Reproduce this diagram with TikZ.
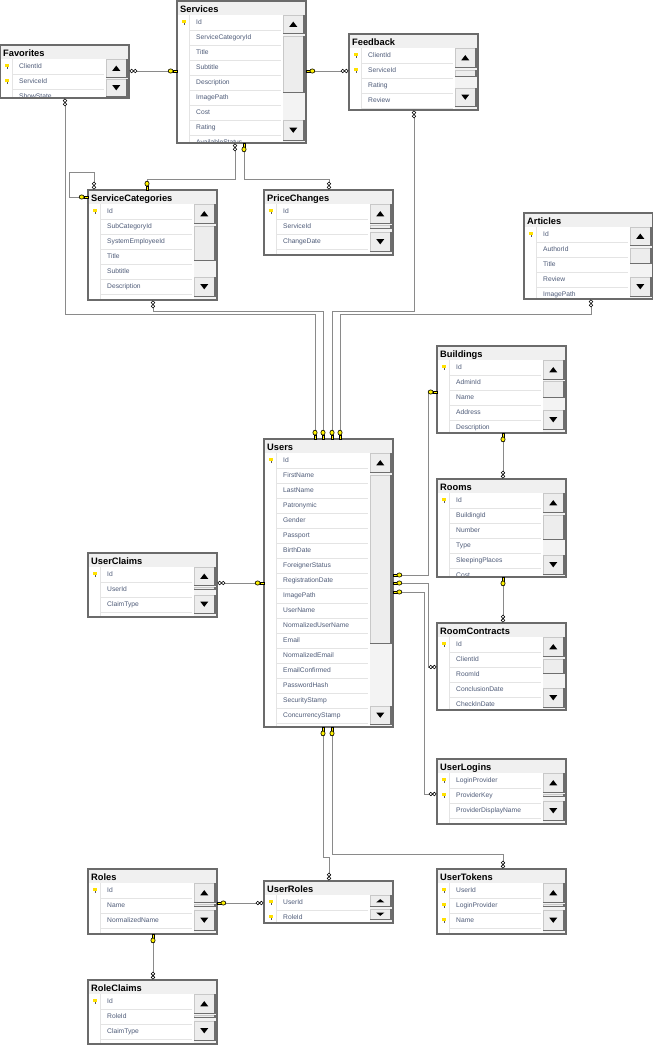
\documentclass[tikz,border=0pt]{standalone}
\usepackage{fontspec}
\setmainfont{Liberation Sans}
\usetikzlibrary{calc}

\definecolor{framecol}{HTML}{6B6B6B}
\definecolor{titlefill}{HTML}{F0F0F0}
\definecolor{rowcol}{HTML}{E4E4E4}
\definecolor{fieldcol}{HTML}{4E5B78}
\definecolor{linkcol}{HTML}{8A8A8A}
\definecolor{btnfill}{HTML}{EDEDED}
\definecolor{btnlight}{HTML}{C8C8C8}
\definecolor{btndark}{HTML}{6E6E6E}
\definecolor{trackfill}{HTML}{F3F3F3}
\definecolor{keyyellow}{HTML}{FFF200}

\tikzset{
  tblbox/.style={rectangle, draw=framecol, line width=1.4pt, fill=white,
    minimum width=129pt, inner sep=0pt, outer sep=0pt},
  tbltitle/.style={anchor=base west, inner sep=0pt,
    font=\bfseries\fontsize{9.3}{11}\selectfont},
  fieldtext/.style={anchor=base west, inner sep=0pt, text=fieldcol,
    font=\fontsize{6.7}{8}\selectfont},
  rowline/.style={draw=rowcol, line width=0.8pt},
  link/.style={draw=linkcol, line width=0.9pt},
}

% half height of the scroll arrows
\def\trih{2.6}

% raised scrollbar button: x1 y1 x2 y2 arrow (1 up, -1 down, 0 none)
\newcommand{\sbbtn}[5]{%
  \fill[btnfill] (#1,#2) rectangle (#3,#4);
  \draw[btnlight, line width=0.7pt] (#1+0.35,#4) -- (#1+0.35,#2+0.35) -- (#3,#2+0.35);
  \draw[btndark, line width=1.3pt] (#1,#4-0.65) -- (#3-0.65,#4-0.65) -- (#3-0.65,#2);
  \ifnum#5=0\else
    \pgfmathsetmacro\sbcx{(#1+#3)/2-0.5}%
    \pgfmathsetmacro\sbcy{(#2+#4)/2-0.3}%
    \pgfmathsetmacro\sbp{\sbcy+(#5)*\trih}%
    \pgfmathsetmacro\sbq{\sbcy-(#5)*\trih}%
    \fill[black] (\sbcx-4,\sbp) -- (\sbcx+4,\sbp) -- (\sbcx,\sbq) -- cycle;
  \fi}

% key glyph of a primary key row
\newcommand{\pkicon}[2]{%
  \begin{scope}[shift={(#1,#2)}]
    \fill[keyyellow!85!orange] (-1.6,-2.2) rectangle (1.6,0.5);
    \fill[black!65] (-0.5,0.5) rectangle (0.5,2.3);
  \end{scope}}

% table: name, x, y, height, title, rows (pk/field), scroll (up/up/thumb/thumb/down/down)
\newcommand{\dbtable}[7]{%
  \node[tblbox, minimum height=#4] (#1) at (#2+64.5,#3+#4/2) {};
  \fill[titlefill] (#2+0.7,#3+0.7) rectangle (#2+128.3,#3+14);
  \node[tbltitle] at (#2+3,#3+11.4) {#5};
  \begin{scope}
    \clip (#2+2,#3+14) rectangle (#2+105,#3+#4-1.5);
    \foreach \pk/\fld [count=\i from 0] in {#6} {
      \draw[rowline] (#2+13,#3+29+15*\i) -- (#2+104,#3+29+15*\i);
      \node[fieldtext] at (#2+19,#3+23.9+15*\i) {\fld};
      \ifnum\pk=1 \pkicon{#2+7}{#3+21.5+15*\i}\fi
    }
    \draw[rowline] (#2+12.7,#3+14) -- (#2+12.7,#3+#4);
  \end{scope}
  \foreach \sUa/\sUb/\sTa/\sTb/\sDa/\sDb in {#7} {
    \fill[trackfill] (#2+106,#3+14) rectangle (#2+127.5,#3+#4-1.5);
    \sbbtn{#2+106}{\sUa}{#2+127.5}{\sUb}{1}
    \ifdim\sTb pt>\sTa pt \sbbtn{#2+106}{\sTa}{#2+127.5}{\sTb}{0}\fi
    \sbbtn{#2+106}{\sDa}{#2+127.5}{\sDb}{-1}
  }
  \draw[framecol, line width=1.4pt] (#1.north west) rectangle (#1.south east);
}

% relationship ends: point, outward direction
\newcommand{\keyend}[2]{%
  \begin{scope}[shift={(#1)}, rotate=#2]
    \draw[black, line width=0.5pt, fill=keyyellow] (0,-0.9) rectangle (4.2,0.9);
    \draw[black, line width=0.6pt, fill=keyyellow] (6.4,0) ellipse (2.5 and 2.1);
  \end{scope}}
\newcommand{\manyend}[2]{%
  \begin{scope}[shift={(#1)}, rotate=#2]
    \draw[black, line width=0.55pt, fill=white] (2.6,0) circle (1.8) (6.2,0) circle (1.8);
  \end{scope}}
\newcommand{\manyendh}[2]{%
  \begin{scope}[shift={(#1)}, rotate=#2]
    \draw[black, line width=0.55pt, fill=white]
      (0.8,0) -- (2.6,1.8) -- (4.4,0) -- (2.6,-1.8) -- cycle
      (4.4,0) -- (6.2,1.8) -- (8.0,0) -- (6.2,-1.8) -- cycle;
  \end{scope}}

\begin{document}
\begin{tikzpicture}[x=1pt,y=-1pt]
\useasboundingbox (0,0) rectangle (653,1045);
\fill[white] (0,0) rectangle (653,1045);

% ---- tables ----
\dbtable{fav}{0}{45}{53}{Favorites}{1/ClientId,1/ServiceId,0/ShowState}{59/78/0/0/79/97}
\dbtable{svc}{177}{1}{142}{Services}{1/Id,0/ServiceCategoryId,0/Title,0/Subtitle,0/Description,0/ImagePath,0/Cost,0/Rating,0/AvailableStatus}{15/34/36/93/120/141}
\dbtable{fb}{349}{34}{76}{Feedback}{1/ClientId,1/ServiceId,0/Rating,0/Review}{48/68/70/77/88/107}
\dbtable{sc}{88}{190}{110}{ServiceCategories}{1/Id,0/SubCategoryId,0/SystemEmployeeId,0/Title,0/Subtitle,0/Description}{204/224/226/261/277/297}
\dbtable{pc}{264}{190}{65}{PriceChanges}{1/Id,0/ServiceId,0/ChangeDate}{204/224/225/229/232/252}
\dbtable{art}{524}{213}{86}{Articles}{1/Id,0/AuthorId,0/Title,0/Review,0/ImagePath}{227/246/248/264/277/297}
\dbtable{bld}{437}{346}{87}{Buildings}{1/Id,0/AdminId,0/Name,0/Address,0/Description}{360/380/381/398/410/430}
\dbtable{users}{264}{439}{288}{Users}{1/Id,0/FirstName,0/LastName,0/Patronymic,0/Gender,0/Passport,0/BirthDate,0/ForeignerStatus,0/RegistrationDate,0/ImagePath,0/UserName,0/NormalizedUserName,0/Email,0/NormalizedEmail,0/EmailConfirmed,0/PasswordHash,0/SecurityStamp,0/ConcurrencyStamp}{453/473/475/644/706/725}
\dbtable{rooms}{437}{479}{98}{Rooms}{1/Id,0/BuildingId,0/Number,0/Type,0/SleepingPlaces,0/Cost}{493/513/515/540/555/575}
\dbtable{rc}{437}{623}{87}{RoomContracts}{1/Id,0/ClientId,0/RoomId,0/ConclusionDate,0/CheckInDate}{637/657/659/674/688/708}
\dbtable{uc}{88}{553}{64}{UserClaims}{1/Id,0/UserId,0/ClaimType}{567/586/587/590/595/614}
\dbtable{ul}{437}{759}{65}{UserLogins}{1/LoginProvider,1/ProviderKey,0/ProviderDisplayName}{773/793/794/797/801/821}
\dbtable{roles}{88}{869}{65}{Roles}{1/Id,0/Name,0/NormalizedName}{883/903/904/907/910/931}
\def\trih{1.6}
\dbtable{ur}{264}{881}{42}{UserRoles}{1/UserId,1/RoleId}{895/907/0/0/909/920}
\def\trih{2.6}
\dbtable{ut}{437}{869}{65}{UserTokens}{1/UserId,1/LoginProvider,1/Name}{883/903/904/907/910/931}
\dbtable{rcl}{88}{980}{64}{RoleClaims}{1/Id,0/RoleId,0/ClaimType}{994/1014/1015/1018/1021/1041}

% ---- relationships ----
\draw[link] (fav.east |- 0,71) coordinate (r1a) -- (svc.west |- 0,71) coordinate (r1b);
\manyendh{r1a}{0}\keyend{r1b}{180}

\draw[link] (svc.east |- 0,71) coordinate (r2a) -- (fb.west |- 0,71) coordinate (r2b);
\keyend{r2a}{0}\manyendh{r2b}{180}

\draw[link] (svc.south -| 235,0) coordinate (r3a) |- (147,179) -- (sc.north -| 147,0) coordinate (r3b);
\manyend{r3a}{-90}\keyend{r3b}{90}

\draw[link] (svc.south -| 244,0) coordinate (r4a) |- (329,179) -- (pc.north -| 329,0) coordinate (r4b);
\keyend{r4a}{-90}\manyend{r4b}{90}

\draw[link] (sc.north -| 94,0) coordinate (r5a) -- (94,172) -| (69,197) -- (sc.west |- 0,197) coordinate (r5b);
\manyend{r5a}{90}\keyend{r5b}{180}

\draw[link] (fav.south -| 65,0) coordinate (r6a) |- (315,314) -- (users.north -| 315,0) coordinate (r6b);
\manyend{r6a}{-90}\keyend{r6b}{90}

\draw[link] (sc.south -| 153,0) coordinate (r7a) |- (323,311) -- (users.north -| 323,0) coordinate (r7b);
\manyend{r7a}{-90}\keyend{r7b}{90}

\draw[link] (fb.south -| 414,0) coordinate (r8a) |- (332,311) -- (users.north -| 332,0) coordinate (r8b);
\manyend{r8a}{-90}\keyend{r8b}{90}

\draw[link] (art.south -| 591,0) coordinate (r9a) |- (340,314) -- (users.north -| 340,0) coordinate (r9b);
\manyend{r9a}{-90}\keyend{r9b}{90}

\draw[link] (users.east |- 0,575) coordinate (r10a) -| (428,392) -- (bld.west |- 0,392) coordinate (r10b);
\keyend{r10a}{0}\keyend{r10b}{180}

\draw[link] (users.east |- 0,583) coordinate (r11a) -| (428,667) -- (rc.west |- 0,667) coordinate (r11b);
\keyend{r11a}{0}\manyendh{r11b}{180}

\draw[link] (users.east |- 0,592) coordinate (r12a) -| (424,794) -- (ul.west |- 0,794) coordinate (r12b);
\keyend{r12a}{0}\manyendh{r12b}{180}

\draw[link] (uc.east |- 0,583) coordinate (r13a) -- (users.west |- 0,583) coordinate (r13b);
\manyendh{r13a}{0}\keyend{r13b}{180}

\draw[link] (users.south -| 323,0) coordinate (r14a) |- (329,857) -- (ur.north -| 329,0) coordinate (r14b);
\keyend{r14a}{-90}\manyend{r14b}{90}

\draw[link] (users.south -| 332,0) coordinate (r15a) |- (503,854) -- (ut.north -| 503,0) coordinate (r15b);
\keyend{r15a}{-90}\manyend{r15b}{90}

\draw[link] (roles.east |- 0,903) coordinate (r16a) -- (ur.west |- 0,903) coordinate (r16b);
\keyend{r16a}{0}\manyendh{r16b}{180}

\draw[link] (roles.south -| 153,0) coordinate (r17a) -- (rcl.north -| 153,0) coordinate (r17b);
\keyend{r17a}{-90}\manyend{r17b}{90}

\draw[link] (bld.south -| 503,0) coordinate (r18a) -- (rooms.north -| 503,0) coordinate (r18b);
\keyend{r18a}{-90}\manyend{r18b}{90}

\draw[link] (rooms.south -| 503,0) coordinate (r19a) -- (rc.north -| 503,0) coordinate (r19b);
\keyend{r19a}{-90}\manyend{r19b}{90}
\end{tikzpicture}
\end{document}
